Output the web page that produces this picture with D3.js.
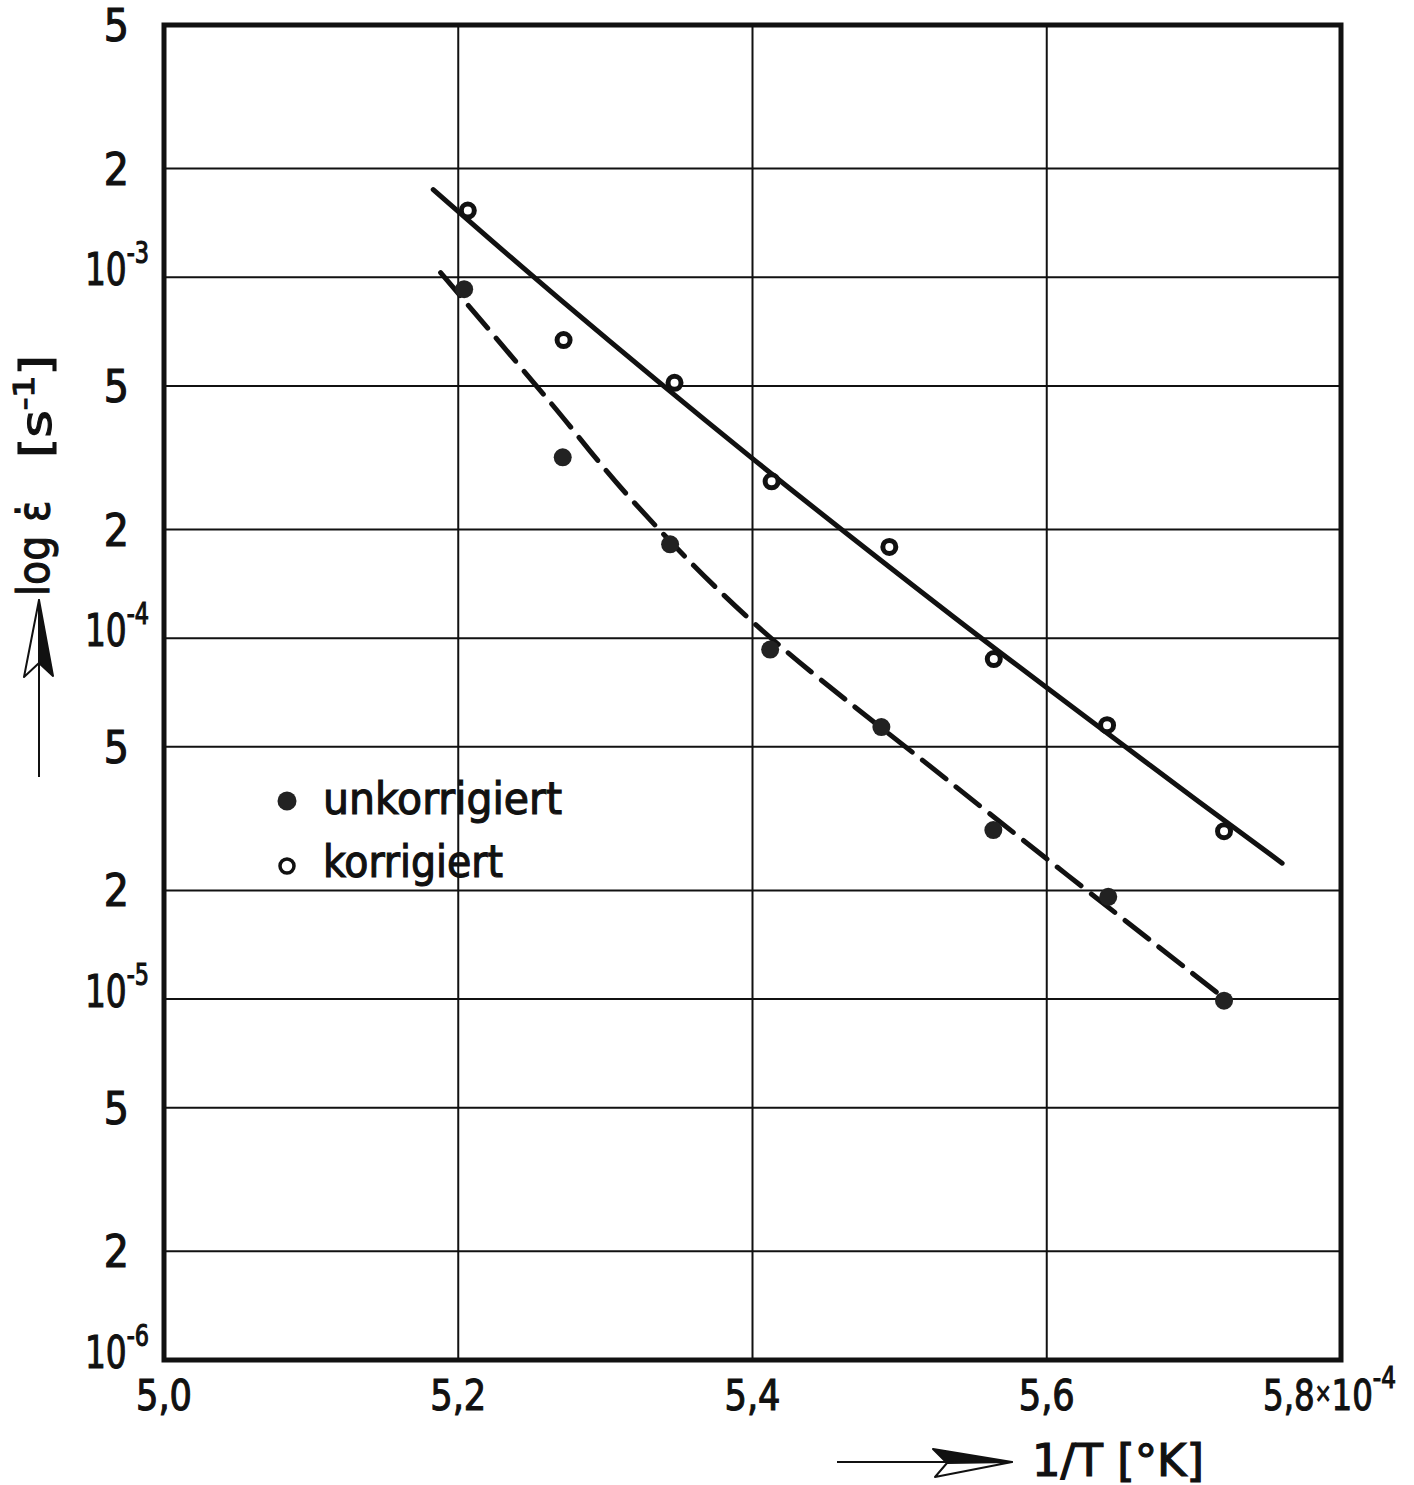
<!DOCTYPE html>
<html>
<head>
<meta charset="utf-8">
<script src="https://cdn.jsdelivr.net/npm/d3@7"></script>
<style>
  body { margin: 0; background: #fff; }
  text { font-family: "DejaVu Sans Condensed", "DejaVu Sans", sans-serif; font-stretch: condensed; fill: #111; stroke: #111; stroke-width: 1.1; }
</style>
</head>
<body>
<script>
// values (x in units of 10^-4 1/K)
var xTicks = [5.0, 5.2, 5.4, 5.6, 5.8];
var xTickLabels = ["5,0", "5,2", "5,4", "5,6", "5,8"];
var yTicks = [5e-3, 2e-3, 1e-3, 5e-4, 2e-4, 1e-4, 5e-5, 2e-5, 1e-5, 5e-6, 2e-6, 1e-6];
var yTickMant = ["5", "2", "10", "5", "2", "10", "5", "2", "10", "5", "2", "10"];
var yTickExp = ["", "", "-3", "", "", "-4", "", "", "-5", "", "", "-6"];

var korrX = [5.2065, 5.2716, 5.347, 5.413, 5.493, 5.564, 5.641, 5.7205];
var korrY = [1.53e-3, 6.7e-4, 5.1e-4, 2.72e-4, 1.79e-4, 8.75e-5, 5.74e-5, 2.92e-5];
var unkX = [5.204, 5.271, 5.344, 5.412, 5.4876, 5.5637, 5.6418, 5.7205];
var unkY = [9.27e-4, 3.17e-4, 1.82e-4, 9.3e-5, 5.67e-5, 2.94e-5, 1.92e-5, 9.9e-6];

// hand drawn fit curves
var korrFitX = [5.183, 5.270, 5.399, 5.535, 5.670, 5.760];
var korrFitY = [1.75e-3, 8.63e-4, 3.17e-4, 1.16e-4, 4.45e-5, 2.38e-5];
var unkFitX = [5.188, 5.263, 5.317, 5.399, 5.535, 5.720];
var unkFitY = [1.03e-3, 4.48e-4, 2.44e-4, 1.12e-4, 3.97e-5, 1.01e-5];

var W = 1414, H = 1485;
var mLeft = 164, mRight = 1341, mTop = 25, mBottom = 1360;

var svg = d3.select("body").append("svg")
    .attr("width", W)
    .attr("height", H);

var x = d3.scaleLinear().domain([5.0, 5.8]).range([mLeft, mRight]);
var y = d3.scaleLog().domain([1e-6, 5e-3]).range([mBottom, mTop]);

// grid
svg.selectAll(".hgrid")
    .data(yTicks.slice(1, -1))
    .enter().append("line")
    .attr("x1", mLeft).attr("x2", mRight)
    .attr("y1", function(d){ return y(d); })
    .attr("y2", function(d){ return y(d); })
    .attr("stroke", "#111")
    .attr("stroke-width", 2);

svg.selectAll(".vgrid")
    .data(xTicks.slice(1, -1))
    .enter().append("line")
    .attr("x1", function(d){ return x(d); })
    .attr("x2", function(d){ return x(d); })
    .attr("y1", mTop).attr("y2", mBottom)
    .attr("stroke", "#111")
    .attr("stroke-width", 2);

// frame
svg.append("rect")
    .attr("x", mLeft).attr("y", mTop)
    .attr("width", mRight - mLeft).attr("height", mBottom - mTop)
    .attr("fill", "none")
    .attr("stroke", "#111")
    .attr("stroke-width", 5);

// y tick labels
yTicks.forEach(function(d, i){
    var t = svg.append("text")
        .attr("font-size", 44);
    if (yTickExp[i] === "") {
        t.attr("x", 129).attr("y", y(d) + 16)
         .attr("text-anchor", "end")
         .text(yTickMant[i]);
    } else {
        t.attr("x", 85).attr("y", y(d) + 8)
         .attr("textLength", 64).attr("lengthAdjust", "spacingAndGlyphs");
        t.append("tspan").text(yTickMant[i]);
        t.append("tspan").attr("dy", -22).attr("font-size", 30).text(yTickExp[i]);
    }
});

// x tick labels
xTicks.forEach(function(d, i){
    var t = svg.append("text")
        .attr("font-size", 42)
        .attr("y", mBottom + 50);
    if (i < xTicks.length - 1) {
        t.attr("x", x(d)).attr("text-anchor", "middle")
         .attr("textLength", 56).attr("lengthAdjust", "spacingAndGlyphs")
         .text(xTickLabels[i]);
    } else {
        t.attr("x", 1263)
         .attr("textLength", 133).attr("lengthAdjust", "spacingAndGlyphs");
        t.append("tspan").text(xTickLabels[i]);
        t.append("tspan").attr("font-size", 26).attr("dy", -8).text("\u00d7");
        t.append("tspan").attr("dy", 8).text("10");
        t.append("tspan").attr("dy", -22).attr("font-size", 30).text("-4");
    }
});

// fit curves
var line = d3.line()
    .x(function(d){ return x(d[0]); })
    .y(function(d){ return y(d[1]); })
    .curve(d3.curveCatmullRom);

svg.append("path")
    .attr("d", line(d3.zip(korrFitX, korrFitY)))
    .attr("fill", "none")
    .attr("stroke", "#111")
    .attr("stroke-width", 5)
    .attr("stroke-linecap", "round");

svg.append("path")
    .attr("d", line(d3.zip(unkFitX, unkFitY)))
    .attr("fill", "none")
    .attr("stroke", "#111")
    .attr("stroke-width", 5)
    .attr("stroke-dasharray", "30,13")
    .attr("stroke-linecap", "round");

// points
svg.selectAll(".unk")
    .data(d3.zip(unkX, unkY))
    .enter().append("circle")
    .attr("cx", function(d){ return x(d[0]); })
    .attr("cy", function(d){ return y(d[1]); })
    .attr("r", 9)
    .attr("fill", "#222");

svg.selectAll(".korr")
    .data(d3.zip(korrX, korrY))
    .enter().append("circle")
    .attr("cx", function(d){ return x(d[0]); })
    .attr("cy", function(d){ return y(d[1]); })
    .attr("r", 6.5)
    .attr("fill", "#fff")
    .attr("stroke", "#111")
    .attr("stroke-width", 5);

// legend
svg.append("circle").attr("cx", 287).attr("cy", 801).attr("r", 9.5).attr("fill", "#222");
svg.append("text").attr("x", 323).attr("y", 814).attr("font-size", 44)
    .attr("textLength", 239).attr("lengthAdjust", "spacingAndGlyphs").text("unkorrigiert");
svg.append("circle").attr("cx", 287).attr("cy", 866).attr("r", 7).attr("fill", "#fff")
    .attr("stroke", "#111").attr("stroke-width", 3.5);
svg.append("text").attr("x", 323).attr("y", 877).attr("font-size", 44)
    .attr("textLength", 180).attr("lengthAdjust", "spacingAndGlyphs").text("korrigiert");

// x axis title with arrow
svg.append("line")
    .attr("x1", 837).attr("y1", 1462).attr("x2", 1000).attr("y2", 1462)
    .attr("stroke", "#111").attr("stroke-width", 2);
svg.append("path")
    .attr("d", "M1012,1462 L933,1449 L947,1463 Z")
    .attr("fill", "#111").attr("stroke", "#111").attr("stroke-width", 2).attr("stroke-linejoin", "round");
svg.append("path")
    .attr("d", "M1012,1462 L947,1463 L935,1477 Z")
    .attr("fill", "#fff").attr("stroke", "#111").attr("stroke-width", 2).attr("stroke-linejoin", "round");
svg.append("text")
    .attr("x", 1032).attr("y", 1476)
    .attr("font-size", 44)
    .attr("textLength", 172).attr("lengthAdjust", "spacingAndGlyphs")
    .text("1/T [\u00b0K]");

// y axis title with arrow
svg.append("line")
    .attr("x1", 39).attr("y1", 777).attr("x2", 39).attr("y2", 612)
    .attr("stroke", "#111").attr("stroke-width", 2);
svg.append("path")
    .attr("d", "M39,600 L53,676 L39,663 Z")
    .attr("fill", "#111").attr("stroke", "#111").attr("stroke-width", 2).attr("stroke-linejoin", "round");
svg.append("path")
    .attr("d", "M39,600 L39,663 L24,677 Z")
    .attr("fill", "#fff").attr("stroke", "#111").attr("stroke-width", 2).attr("stroke-linejoin", "round");

svg.append("text")
    .attr("transform", "translate(49,596) rotate(-90)")
    .attr("font-size", 44)
    .text("log");
svg.append("text")
    .attr("transform", "translate(49,522) rotate(-90)")
    .attr("font-size", 44)
    .text("\u03b5\u0307");
var yt = svg.append("text")
    .attr("transform", "translate(51,458) rotate(-90)")
    .attr("font-size", 42)
    .attr("textLength", 103).attr("lengthAdjust", "spacingAndGlyphs");
yt.append("tspan").text("[s");
yt.append("tspan").attr("dy", -17).attr("font-size", 28).text("-1");
yt.append("tspan").attr("dy", 17).text("]");
</script>
</body>
</html>
